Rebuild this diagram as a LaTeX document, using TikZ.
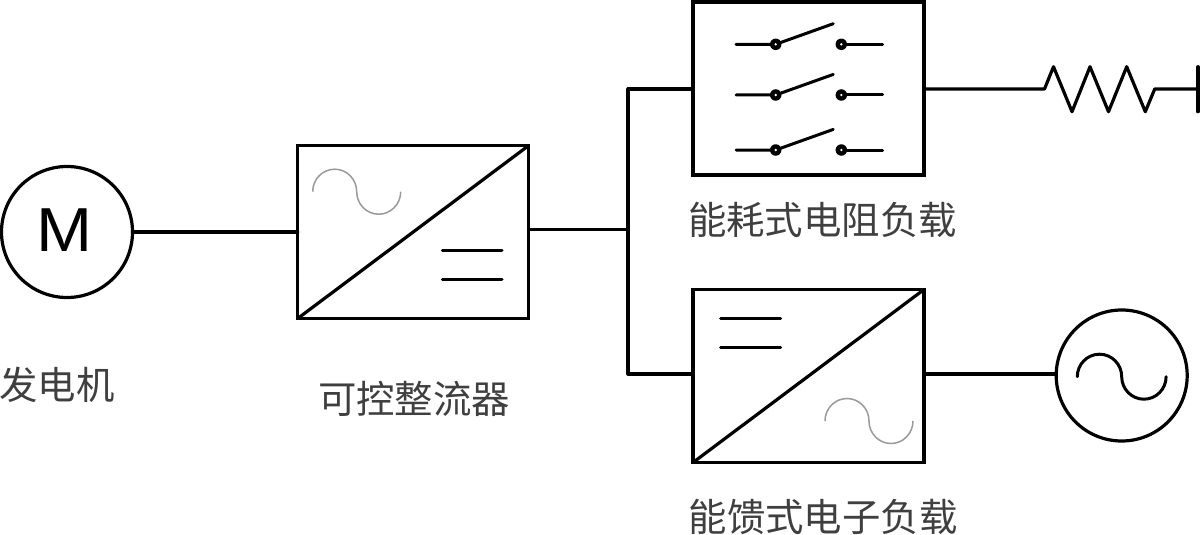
\documentclass[tikz,border=0pt]{standalone}
\usepackage{fontspec}
\setmainfont{Liberation Sans}
\newfontfamily\cjk{Noto Sans CJK SC}
\definecolor{txtgray}{HTML}{3F3F3F}
\definecolor{sinegray}{HTML}{9A9A9A}
\tikzset{
  wire/.style={line width=3.2pt,line cap=round,line join=round,black},
  thinwire/.style={line width=3pt,line cap=round,black},
  sinesmall/.style={line width=1.5pt,sinegray},
  convbox/.style={draw=black,line width=3.2pt,minimum width=231pt,minimum height=173pt,inner sep=0pt,outer sep=0pt,fill=white},
  roundel/.style={circle,draw=black,line width=3.2pt,minimum size=131pt,inner sep=0pt,outer sep=0pt},
  lbl/.style={font=\cjk\fontsize{38.4}{40}\selectfont,text=txtgray,inner sep=0pt},
  contact/.style={circle,fill=black,minimum size=11.5pt,inner sep=0pt,outer sep=0pt},
  contacteye/.style={circle,fill=white,minimum size=2.6pt,inner sep=0pt,outer sep=0pt},
}
\begin{document}
\begin{tikzpicture}[x=1pt,y=-1pt]
\useasboundingbox (0,0) rectangle (1200,535);
% main blocks
\node[roundel] (gen) at (67,232) {};
\node[inner sep=0pt,font=\fontsize{57}{57}\selectfont] (gentxt) at (65,230) {\scalebox{1.18}[1.09]{M}};
\node[convbox] (rect) at (413.2,232) {};
\node[convbox] (dump) at (808.5,88.5) {};
\node[convbox] (feed) at (808.5,376) {};
\node[roundel] (grid) at (1121.7,375.5) {};
% labels
\node[lbl] (l1) at (57,385) {发电机};
\node[lbl] (l2) at (414,399) {可控整流器};
\node[lbl] (l3) at (822.5,220) {能耗式电阻负载};
\node[lbl] (l4) at (823,517) {能馈式电子负载};
% junction points
\coordinate (rectout) at (rect.east |- 0,229.5);
\coordinate (bus) at (628,229.5);
\coordinate (bustop) at (628,89);
\coordinate (busbot) at (628,374);
\coordinate (dumpin) at (dump.west |- bustop);
\coordinate (feedin) at (feed.west |- busbot);
\coordinate (dumpout) at (dump.east |- bustop);
\coordinate (feedout) at (feed.east |- busbot);
\coordinate (gridin) at (grid.west |- busbot);
% wiring
\draw[wire] (gen.east) -- (gen.east -| rect.west);
\draw[wire] (rectout) -- (bus);
\draw[wire] (dumpin) -- (bustop) -- (busbot) -- (feedin);
\draw[wire] (feedout) -- (gridin);
% resistor
\coordinate (rs) at (1044.5,89);
\coordinate (re) at (1154.7,89);
\coordinate (bar) at (1198,89);
\coordinate (bart) at (1198,66.7);
\coordinate (barb) at (1198,111.7);
\draw[wire] (dumpout) -- (rs) -- (1053.5,66.7) -- (1072,111.7) -- (1090,66.7) -- (1108.5,111.7)
  -- (1126.7,66.7) -- (1145.3,111.7) -- (re) -- (bar);
\draw[wire] (bart) -- (barb);
% converter diagonals
\draw[wire] (rect.south west) -- (rect.north east);
\draw[wire] (feed.south west) -- (feed.north east);
% rectifier symbols
\coordinate (ra) at (442.3,250.7); \coordinate (rb) at (502,250.7);
\coordinate (rc) at (442.3,279.3); \coordinate (rd) at (502,279.3);
\draw[thinwire] (ra) -- (rb); \draw[thinwire] (rc) -- (rd);
\draw[sinesmall] (312.7,191.7) arc[start angle=180,end angle=0,x radius=22pt,y radius=22.5pt]
  arc[start angle=180,end angle=360,x radius=22pt,y radius=22.5pt];
% feedback symbols
\coordinate (fa) at (720.7,318.3); \coordinate (fb) at (780.7,318.3);
\coordinate (fc) at (720.7,347.3); \coordinate (fd) at (780.7,347.3);
\draw[thinwire] (fa) -- (fb); \draw[thinwire] (fc) -- (fd);
\draw[sinesmall] (825,421) arc[start angle=180,end angle=0,x radius=22pt,y radius=22.5pt]
  arc[start angle=180,end angle=360,x radius=22pt,y radius=22.5pt];
% grid sine
\draw[wire,line width=3pt] (1077.3,376.7) arc[start angle=180,end angle=0,x radius=22.2pt,y radius=22.5pt]
  arc[start angle=180,end angle=360,x radius=22.2pt,y radius=22.5pt];
% switches
\foreach \n/\y in {a/44.3,b/95,c/150}{
  \coordinate (in\n) at (736,\y);
  \coordinate (out\n) at (882.7,\y);
  \coordinate (arm\n) at (833.3,\y-20.6);
  \node[contact] (p\n) at (775.7,\y) {};
  \node[contact] (q\n) at (841.3,\y) {};
  \draw[thinwire] (in\n) -- (p\n.center) -- (arm\n);
  \draw[thinwire] (q\n.center) -- (out\n);
  \node[contacteye] at (p\n.center) {};
  \node[contacteye] at (q\n.center) {};
}
\end{tikzpicture}
\end{document}
